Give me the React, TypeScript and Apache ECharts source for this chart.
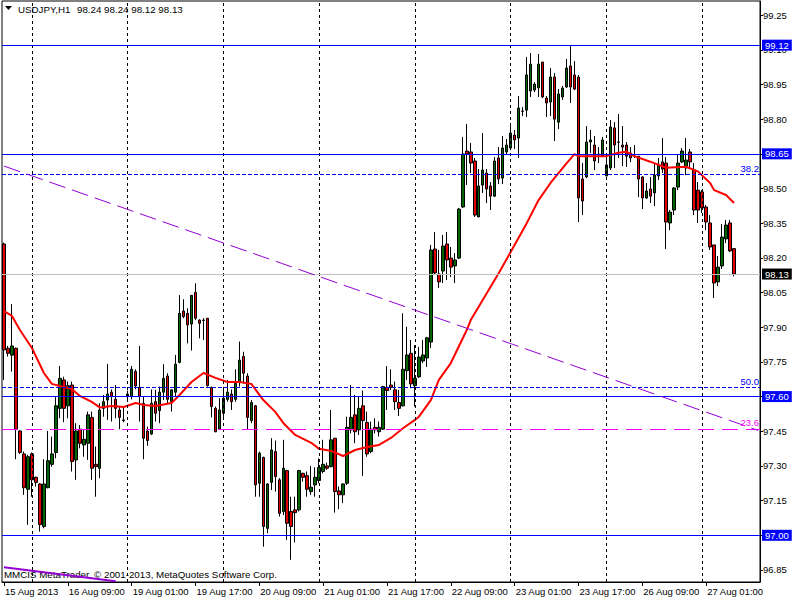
import React, { useEffect, useRef } from "react";
import * as echarts from "echarts";

const symbolName = "USDJPY,H1";
const lastQuote = "98.24 98.24 98.12 98.13";
const copyright = "MMCIS MetaTrader, © 2001-2013, MetaQuotes Software Corp.";
const timeLabels = [
  "15 Aug 2013", "16 Aug 09:00", "19 Aug 01:00", "19 Aug 17:00", "20 Aug 09:00", "21 Aug 01:00",
  "21 Aug 17:00", "22 Aug 09:00", "23 Aug 01:00", "23 Aug 17:00", "26 Aug 09:00", "27 Aug 01:00",
];
const barsPerLabel = 16;
const emptyBarsRight = 6;
const daySeparators = [7, 31, 55, 79, 103, 127, 151, 175];
const priceTicks = [96.85, 97.0, 97.15, 97.3, 97.45, 97.6, 97.75, 97.9, 98.05, 98.2, 98.35, 98.5, 98.65, 98.8, 98.95, 99.1, 99.25];
const priceMin = 96.798;
const priceMax = 99.311;

// [open, close, low, high]
const candles: number[][] = [
  [98.260, 97.802, 97.672, 98.266], [97.809, 97.787, 97.773, 97.819], [97.779, 97.819, 97.708, 98.000], [97.809, 97.459, 97.329, 97.812],
  [97.451, 97.358, 97.352, 97.455], [97.352, 97.206, 97.175, 97.362], [97.199, 97.340, 97.045, 97.348], [97.352, 97.240, 97.167, 97.358],
  [97.251, 97.229, 97.211, 97.254], [97.222, 97.046, 97.016, 97.225], [97.038, 97.222, 97.030, 97.329], [97.206, 97.323, 97.203, 97.451],
  [97.307, 97.352, 97.297, 97.427], [97.358, 97.560, 97.333, 97.600], [97.549, 97.679, 97.506, 97.732], [97.672, 97.549, 97.489, 97.686],
  [97.560, 97.647, 97.506, 97.665], [97.650, 97.319, 97.276, 97.665], [97.326, 97.451, 97.240, 97.485], [97.459, 97.398, 97.376, 97.477],
  [97.391, 97.415, 97.340, 97.456], [97.398, 97.521, 97.326, 97.535], [97.510, 97.290, 97.240, 97.535], [97.307, 97.297, 97.167, 97.384],
  [97.290, 97.542, 97.247, 97.571], [97.549, 97.578, 97.513, 97.607], [97.585, 97.611, 97.499, 97.741], [97.619, 97.600, 97.492, 97.631],
  [97.588, 97.549, 97.506, 97.650], [97.542, 97.510, 97.459, 97.557], [97.499, 97.496, 97.489, 97.557], [97.600, 97.611, 97.585, 97.626],
  [97.600, 97.718, 97.588, 97.732], [97.709, 97.646, 97.631, 97.718], [97.640, 97.600, 97.492, 97.819], [97.571, 97.420, 97.329, 97.600],
  [97.451, 97.410, 97.387, 97.470], [97.438, 97.571, 97.434, 97.631], [97.578, 97.528, 97.492, 97.629], [97.539, 97.619, 97.485, 97.643],
  [97.619, 97.679, 97.585, 97.740], [97.689, 97.588, 97.571, 97.701], [97.578, 97.629, 97.535, 97.631], [97.619, 97.740, 97.600, 97.780],
  [97.748, 97.960, 97.744, 98.039], [97.970, 97.946, 97.939, 98.021], [97.960, 97.910, 97.830, 97.982], [97.914, 98.038, 97.799, 98.039],
  [98.051, 97.939, 97.931, 98.090], [97.931, 97.917, 97.852, 97.934], [97.931, 97.929, 97.845, 97.939], [97.939, 97.647, 97.643, 97.939],
  [97.640, 97.557, 97.510, 97.643], [97.549, 97.448, 97.446, 97.557], [97.459, 97.542, 97.456, 97.593], [97.528, 97.593, 97.506, 97.629],
  [97.588, 97.619, 97.578, 97.672], [97.611, 97.578, 97.542, 97.631], [97.588, 97.657, 97.578, 97.718], [97.665, 97.758, 97.643, 97.838],
  [97.773, 97.701, 97.657, 97.794], [97.689, 97.510, 97.459, 97.701], [97.496, 97.574, 97.485, 97.585], [97.560, 97.218, 97.167, 97.564],
  [97.225, 97.355, 97.167, 97.362], [97.337, 97.038, 96.951, 97.340], [97.030, 97.222, 97.009, 97.225], [97.229, 97.369, 97.196, 97.420],
  [97.362, 97.254, 97.189, 97.410], [97.240, 97.095, 97.081, 97.247], [97.103, 97.290, 97.088, 97.413], [97.280, 97.052, 96.980, 97.283],
  [97.103, 97.038, 96.894, 97.167], [97.110, 97.098, 96.969, 97.167], [97.110, 97.280, 97.103, 97.283], [97.268, 97.251, 97.232, 97.271],
  [97.258, 97.199, 97.167, 97.276], [97.189, 97.208, 97.175, 97.300], [97.218, 97.251, 97.167, 97.294], [97.237, 97.293, 97.225, 97.333],
  [97.276, 97.307, 97.268, 97.413], [97.300, 97.290, 97.283, 97.314], [97.297, 97.413, 97.294, 97.542], [97.420, 97.189, 97.098, 97.420],
  [97.192, 97.175, 97.113, 97.211], [97.175, 97.222, 97.139, 97.225], [97.225, 97.467, 97.218, 97.513], [97.456, 97.510, 97.441, 97.650],
  [97.521, 97.448, 97.398, 97.607], [97.456, 97.549, 97.434, 97.600], [97.560, 97.496, 97.257, 97.626], [97.488, 97.352, 97.340, 97.535],
  [97.362, 97.459, 97.355, 97.492], [97.467, 97.456, 97.441, 97.506], [97.448, 97.467, 97.427, 97.492], [97.459, 97.643, 97.456, 97.646],
  [97.640, 97.626, 97.542, 97.732], [97.650, 97.640, 97.629, 97.718], [97.629, 97.578, 97.542, 97.665], [97.574, 97.549, 97.516, 97.629],
  [97.560, 97.718, 97.557, 97.960], [97.712, 97.780, 97.672, 97.902], [97.787, 97.655, 97.636, 97.845], [97.647, 97.679, 97.557, 97.823],
  [97.685, 97.771, 97.681, 97.815], [97.754, 97.780, 97.745, 97.845], [97.767, 97.854, 97.728, 97.858], [97.836, 98.234, 97.810, 98.256],
  [98.238, 98.135, 98.126, 98.312], [98.130, 98.096, 98.070, 98.234], [98.143, 98.251, 98.091, 98.299], [98.260, 98.191, 98.104, 98.312],
  [98.199, 98.160, 98.117, 98.247], [98.165, 98.191, 98.091, 98.221], [98.199, 98.411, 98.195, 98.416], [98.420, 98.649, 98.416, 98.723],
  [98.662, 98.649, 98.515, 98.779], [98.658, 98.610, 98.567, 98.697], [98.619, 98.385, 98.377, 98.632], [98.377, 98.511, 98.377, 98.584],
  [98.515, 98.580, 98.481, 98.740], [98.567, 98.498, 98.437, 98.584], [98.511, 98.467, 98.407, 98.528], [98.467, 98.619, 98.463, 98.636],
  [98.632, 98.541, 98.519, 98.679], [98.545, 98.675, 98.519, 98.727], [98.658, 98.688, 98.649, 98.714], [98.675, 98.740, 98.666, 98.783],
  [98.731, 98.710, 98.671, 98.753], [98.718, 98.848, 98.632, 98.900], [98.835, 98.834, 98.813, 98.852], [98.839, 98.991, 98.809, 99.069],
  [98.922, 99.038, 98.896, 99.086], [98.926, 98.952, 98.917, 98.960], [98.935, 99.038, 98.896, 99.082], [99.047, 98.896, 98.891, 99.047],
  [98.891, 98.870, 98.809, 98.900], [98.874, 98.982, 98.813, 99.021], [98.982, 98.800, 98.705, 98.999], [98.787, 98.909, 98.757, 98.930],
  [98.896, 98.934, 98.883, 98.943], [98.939, 99.021, 98.935, 99.060], [99.030, 98.939, 98.870, 99.116], [98.991, 98.930, 98.926, 99.051],
  [98.982, 98.459, 98.355, 98.991], [98.541, 98.446, 98.385, 98.610], [98.550, 98.701, 98.545, 98.770], [98.701, 98.710, 98.653, 98.753],
  [98.688, 98.619, 98.580, 98.727], [98.645, 98.649, 98.610, 98.679], [98.640, 98.710, 98.636, 98.723], [98.554, 98.602, 98.554, 98.636],
  [98.589, 98.766, 98.580, 98.796], [98.762, 98.688, 98.589, 98.787], [98.701, 98.700, 98.632, 98.822], [98.688, 98.679, 98.597, 98.770],
  [98.688, 98.640, 98.593, 98.701], [98.653, 98.632, 98.614, 98.679], [98.645, 98.647, 98.632, 98.688], [98.640, 98.541, 98.463, 98.640],
  [98.550, 98.459, 98.411, 98.554], [98.459, 98.489, 98.455, 98.524], [98.498, 98.467, 98.437, 98.550], [98.481, 98.558, 98.424, 98.610],
  [98.554, 98.602, 98.537, 98.632], [98.615, 98.584, 98.567, 98.718], [98.610, 98.355, 98.238, 98.636], [98.351, 98.398, 98.320, 98.407],
  [98.407, 98.502, 98.385, 98.506], [98.506, 98.610, 98.493, 98.645], [98.615, 98.662, 98.610, 98.675], [98.589, 98.623, 98.558, 98.718],
  [98.658, 98.615, 98.593, 98.671], [98.580, 98.407, 98.385, 98.610], [98.493, 98.407, 98.351, 98.528], [98.485, 98.416, 98.394, 98.493],
  [98.420, 98.355, 98.320, 98.429], [98.351, 98.247, 98.234, 98.385], [98.256, 98.091, 98.026, 98.256], [98.096, 98.160, 98.078, 98.208],
  [98.165, 98.290, 98.152, 98.346], [98.282, 98.342, 98.264, 98.364], [98.351, 98.230, 98.225, 98.364], [98.240, 98.130, 98.120, 98.240],
];

// moving average read at selected bars: [bar index, value]
const maPoints: number[][] = [
  [0, 97.970], [2, 97.949], [4, 97.888], [7, 97.810], [10, 97.702], [12, 97.655], [14, 97.646], [17, 97.633],
  [19, 97.603], [22, 97.577], [24, 97.553], [27, 97.559], [30, 97.555], [33, 97.572], [35, 97.564], [38, 97.559],
  [42, 97.572], [44, 97.607], [47, 97.663], [50, 97.702], [53, 97.681], [56, 97.663], [59, 97.663], [62, 97.655],
  [65, 97.585], [68, 97.534], [70, 97.486], [73, 97.434], [77, 97.400], [79, 97.374], [82, 97.365], [85, 97.343],
  [88, 97.369], [91, 97.382], [94, 97.391], [97, 97.421], [100, 97.463], [103, 97.499], [104, 97.513], [107, 97.585],
  [109, 97.672], [112, 97.745], [116, 97.888], [117, 97.931], [121, 98.047], [124, 98.133], [127, 98.225], [131, 98.349],
  [134, 98.450], [137, 98.524], [141, 98.609], [143, 98.649], [144, 98.640], [151, 98.640], [154, 98.655], [156, 98.659],
  [158, 98.640], [162, 98.616], [166, 98.590], [171, 98.594], [174, 98.573], [177, 98.524], [178, 98.493], [181, 98.472],
  [183, 98.437],
];

const blueLevels = [99.12, 98.65, 97.6, 97.0];
const bidPrice = 98.13;
const fibLevelsBlue = [
  { name: "38.2", price: 98.556 },
  { name: "50.0", price: 97.635 },
];
const fibLevelMagenta = { name: "23.6", price: 97.458 };
const trendDashed = [[0, 98.597], [189, 97.454]];
const trendSolid = [[0, 96.862], [28, 96.801]];

const FONT = "'Liberation Sans', Arial, sans-serif";
const AXIS_FS = 9.5;
const TEXT_FS = 9.75;

export default function App() {
  const ref = useRef<HTMLDivElement>(null);

  useEffect(() => {
    if (!ref.current) return;
    const chart = echarts.init(ref.current, null, { renderer: "svg" });
    const total = candles.length + emptyBarsRight;
    const cats = Array.from({ length: total }, (_, i) => String(i));
    const isLabelBar = (i: number) => i % barsPerLabel === 0 && i / barsPerLabel < timeLabels.length;
    // values already shown in the coloured price boxes are not repeated as axis labels
    const labelValues = priceTicks.filter((t) => !blueLevels.some((b) => Math.abs(b - t) < 1e-6));

    const ma: (number | null)[] = candles.map(() => null);
    maPoints.forEach(([i, v]) => { ma[i] = v; });

    const boxLabel = (text: string, bg: string) => ({
      show: true, position: "end", distance: 2, formatter: text, color: "#fff",
      backgroundColor: bg, padding: [1, 3, 0, 3], lineHeight: 10, fontSize: AXIS_FS, fontFamily: FONT,
    });

    const levelSeries = (color: string, data: any[]) => ({
      type: "line",
      data: [],
      color,
      itemStyle: { color },
      lineStyle: { color },
      markLine: { silent: true, symbol: ["none", "none"], animation: false, data },
      z: 2,
    });

    const levelSeriesList: any[] = [];
    levelSeriesList.push(levelSeries("#000000", daySeparators.map((i) => ({
      xAxis: i, lineStyle: { color: "#000000", type: [3, 3], width: 1 }, label: { show: false },
    }))));
    fibLevelsBlue.forEach((f) => {
      levelSeriesList.push(levelSeries("#0000ff", [{
        yAxis: f.price,
        lineStyle: { color: "#0000ff", type: [4, 2], width: 1 },
        label: { show: true, position: "insideEndTop", formatter: f.name, color: "#0000ff", fontSize: AXIS_FS, fontFamily: FONT, distance: 1 },
      }]));
    });
    levelSeriesList.push(levelSeries("#ff00ff", [{
      yAxis: fibLevelMagenta.price,
      lineStyle: { color: "#ff00ff", type: [16, 8], width: 1 },
      label: { show: true, position: "insideEndTop", formatter: fibLevelMagenta.name, color: "#ff00ff", fontSize: AXIS_FS, fontFamily: FONT, distance: 1 },
    }]));
    blueLevels.forEach((p) => {
      levelSeriesList.push(levelSeries("#0000ff", [{
        yAxis: p,
        lineStyle: { color: "#0000ff", type: "solid", width: 1 },
        label: boxLabel(p.toFixed(2), "#0000ff"),
      }]));
    });
    levelSeriesList.push(levelSeries("#c0c0c0", [{
      yAxis: bidPrice,
      lineStyle: { color: "#c0c0c0", type: "solid", width: 1 },
      label: boxLabel(bidPrice.toFixed(2), "#000000"),
    }]));
    const tl1 = { color: "#9400d3", type: [17, 7], width: 1 };
    const tl2 = { color: "#9400d3", type: "solid", width: 2 };
    levelSeriesList.push(levelSeries("#9400d3", [
      [
        { coord: trendDashed[0], lineStyle: tl1, label: { show: false } },
        { coord: trendDashed[1], lineStyle: tl1, label: { show: false } },
      ],
      [
        { coord: trendSolid[0], lineStyle: tl2, label: { show: false } },
        { coord: trendSolid[1], lineStyle: tl2, label: { show: false } },
      ],
    ]));

    chart.setOption({
      animation: false,
      backgroundColor: "#fff",
      textStyle: { fontFamily: FONT },
      grid: { left: 2, top: 1, width: 758, height: 581, show: true, borderColor: "#000", borderWidth: 1, backgroundColor: "transparent" },
      xAxis: {
        type: "category",
        data: cats,
        boundaryGap: true,
        axisLine: { lineStyle: { color: "#000", width: 1 } },
        axisTick: { show: true, alignWithLabel: true, interval: (i: number) => isLabelBar(i), length: 4, lineStyle: { color: "#000" } },
        axisLabel: {
          interval: (i: number) => isLabelBar(i),
          formatter: (v: string) => timeLabels[Number(v) / barsPerLabel] ?? "",
          align: "left",
          padding: [0, 0, 0, 1],
          color: "#000",
          fontSize: AXIS_FS,
          fontFamily: FONT,
          margin: 4,
        },
        splitLine: { show: false },
      },
      yAxis: {
        type: "value",
        position: "right",
        min: priceMin,
        max: priceMax,
        axisLine: { show: true, lineStyle: { color: "#000", width: 1 } },
        axisTick: { show: true, length: 3, customValues: priceTicks, lineStyle: { color: "#000" } },
        axisLabel: {
          customValues: labelValues,
          formatter: (v: number) => v.toFixed(2),
          color: "#000",
          fontSize: AXIS_FS,
          fontFamily: FONT,
          margin: 3,
        },
        splitLine: { show: false },
      },
      series: [
        ...levelSeriesList,
        {
          type: "candlestick",
          data: candles,
          barWidth: 3,
          itemStyle: { color: "#006400", color0: "#e00000", borderColor: "#000", borderColor0: "#000", borderWidth: 1 },
          z: 3,
        },
        {
          type: "line",
          data: ma,
          connectNulls: true,
          showSymbol: false,
          symbol: "none",
          lineStyle: { color: "#ff0000", width: 2 },
          z: 4,
        },
      ],
      graphic: [
        { type: "polygon", shape: { points: [[5, 6], [12, 6], [8.5, 10]] }, style: { fill: "#000" } },
        { type: "text", left: 18, top: 4, style: { text: symbolName, fill: "#000", font: `${TEXT_FS}px ${FONT}` } },
        { type: "text", left: 77, top: 4, style: { text: lastQuote, fill: "#000", font: `${TEXT_FS}px ${FONT}` } },
        { type: "text", left: 4, top: 569, style: { text: copyright, fill: "#000", font: `${TEXT_FS}px ${FONT}` } },
      ],
    });
    return () => chart.dispose();
  }, []);

  return <div ref={ref} style={{ position: "absolute", left: 0, top: 0, width: 800, height: 600, background: "#fff" }} />;
}
